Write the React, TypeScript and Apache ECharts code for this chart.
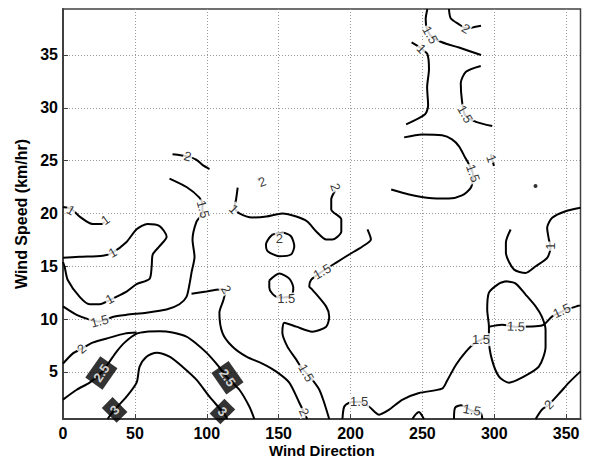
import React, { useEffect, useRef } from 'react';
import * as echarts from 'echarts';

// Axis ticks and extents
const xTicks = [0, 50, 100, 150, 200, 250, 300, 350];
const yTicks = [5, 10, 15, 20, 25, 30, 35];
const X_MIN = 0;
const X_MAX = 360;
const Y_MIN = 0.54;
const Y_MAX = 39.35;

// Contour lines: [wind direction, wind speed]
const oneLoopLeft = [[0, 15.8], [11.6, 15.9], [27.6, 16.0], [34.5, 16.3], [44.2, 17.3], [51.2, 18.5], [58.8, 19.0], [67.2, 18.8], [72.1, 17.8], [67.2, 16.9], [62.4, 16.1], [61.7, 15.0], [60.2, 13.8], [51.2, 13.3], [44.2, 12.6], [32.4, 11.8], [25.5, 11.4], [18.5, 11.4], [11.6, 12.1], [3.3, 13.7], [1.2, 14.9], [0, 15.4]];
const oneTopLeft = [[0, 20.6], [6, 20.4], [11.6, 19.7], [20.6, 19.0], [26.9, 19.0], [29, 19.2]];
const twoTopLeft = [[76.2, 25.6], [86.6, 25.4], [92.6, 25.1], [97.0, 24.6], [101.9, 24.2]];
const onePointFiveLeft = [[0, 11.2], [9.5, 10.4], [18.5, 9.95], [25.5, 9.76], [34.5, 10.2], [44.2, 10.4], [58.1, 10.6], [72.0, 10.9], [81.0, 11.4], [85.9, 12.1], [88.0, 13.3], [89.4, 14.4], [91.5, 15.9], [90.1, 17.5], [92.8, 19.2], [97.0, 20.1], [97.0, 20.85], [94.9, 21.5], [85.9, 22.5], [74.1, 23.3]];
const twoMiddle = [[89.4, 12.4], [99.8, 12.6], [108.8, 12.8], [113.0, 12.7], [111.6, 11.8], [108.8, 10.6], [110.9, 8.7], [117.8, 7.4], [127.6, 6.44], [138.7, 5.78], [148.4, 5.02], [157.4, 3.98], [164.4, 2.08], [167.8, 1.13], [169.9, 0.54]];
const twoLeft = [[0, 5.78], [6.7, 6.73], [13.0, 7.2], [20.6, 7.77], [32.4, 8.24], [42.8, 8.62], [51.2, 8.72]];
const twoPointFive = [[0, 2.37], [9.5, 3.31], [18.5, 3.98], [26.7, 4.92], [32.4, 5.97], [37.3, 6.92], [42.8, 7.77], [51.2, 8.62], [58.1, 8.81], [67.2, 8.84], [76.2, 8.72], [85.9, 8.34], [92.8, 7.67], [99.8, 6.82], [106.7, 5.78], [114.4, 4.45], [122.7, 3.31], [129.7, 1.7], [133.1, 0.54]];
const three = [[31.0, 0.54], [35.9, 1.42], [44.2, 2.65], [51.2, 3.98], [53.3, 5.49], [58.1, 6.44], [65.1, 6.82], [74.1, 6.44], [83.1, 5.49], [92.8, 4.26], [101.9, 2.65], [110.9, 1.23], [114.4, 0.54]];
const onePointFiveCenter = [[211.8, 18.48], [214.2, 17.53], [208.3, 16.87], [199.1, 16.11], [190.1, 15.35], [180.3, 14.5], [172.7, 13.74], [171.3, 13.08], [173.4, 12.79], [183.1, 11.18], [185.2, 10.23], [183.1, 9.28], [173.4, 8.81], [162.3, 9.28], [153.9, 9.66], [152.6, 8.72], [156.1, 7.39], [162.3, 6.16], [165.8, 5.4], [169.2, 4.92], [173.4, 4.26], [178.3, 3.31], [181.7, 2.08], [185.2, 0.54]];
const twoSmallLoop = [[145.8, 18.0], [152.8, 18.17], [158.6, 17.84], [160.9, 16.9], [158.6, 16.11], [150.5, 15.95], [142.4, 16.42], [141.2, 17.06], [143.5, 17.69], [145.8, 18.0]];
const onePointFiveSmallLoop = [[143.5, 13.65], [150.5, 14.31], [157.4, 13.83], [160.2, 12.98], [158.8, 12.22], [150.5, 12.03], [145.6, 12.41], [143.5, 12.98], [143.5, 13.65]];
const twoTick = [[135.3, 23.3], [136.6, 23.2]];
const oneTwoCenter = [[121.5, 22.43], [120.4, 21.32], [119.2, 20.56], [122.7, 20.0], [131.7, 19.62], [141.5, 19.71], [152.6, 20.0], [162.3, 19.71], [169.9, 19.24], [176.2, 18.29], [183.1, 17.53], [187.4, 17.53], [193.6, 18.29], [193.6, 19.43], [186.6, 20.37], [186.6, 21.32], [189.4, 22.18]];
const onePointFiveArc = [[237.3, 27.2], [249.8, 27.48], [263.7, 27.39], [270.6, 27.01], [275.5, 26.35], [279.7, 25.3], [282.4, 24.64], [285.2, 23.69], [283.8, 22.46], [277.6, 21.7], [268.5, 21.42], [254.7, 21.47], [240.8, 21.8], [228.3, 22.27]];
const onePointFiveTop = [[253.5, 39.35], [252.3, 38.4], [253.0, 37.6], [256.0, 36.8], [263.7, 36.2], [275.5, 35.7], [290.8, 35.0]];
const twoTop = [[268.5, 39.35], [269.7, 38.48], [275.5, 37.9], [280.1, 37.53], [290.8, 37.77]];
const oneTopVertical = [[242.5, 36.18], [249.4, 35.6], [253.5, 35.07], [254.6, 33.65], [253.3, 31.94], [254.0, 30.23], [251.9, 29.38], [238.7, 28.43]];
const onePointFiveTopRight = [[290.6, 33.96], [280.3, 33.41], [276.7, 32.32], [277.6, 30.61], [279.7, 29.3], [287.3, 28.67], [298.6, 28.27]];
const oneTiny = [[297.5, 25.6], [299.8, 24.5]];
const oneRight = [[360, 20.54], [349.6, 20.21], [340.3, 19.59], [336.8, 18.64], [338.0, 17.53], [339.2, 16.8], [336.8, 15.79], [328.8, 15.0], [321.8, 14.37], [313.7, 14.69], [308.1, 16.3], [308.1, 17.24], [311.4, 18.48]];
const onePointFiveLoopRight = [[307.9, 13.58], [314.9, 13.36], [321.8, 12.32], [328.9, 11.18], [333.1, 10.23], [335.7, 9.0], [335.7, 7.39], [331.0, 5.49], [319.2, 4.45], [310.2, 3.98], [303.3, 4.55], [298.4, 6.16], [296.3, 8.05], [296.3, 9.28], [295.1, 10.9], [296.3, 12.51], [303.3, 13.36], [307.9, 13.58]];
const onePointFiveAcross = [[296.3, 9.28], [305.3, 9.47], [315.1, 9.28], [328.9, 9.31], [334.5, 9.47], [340.1, 10.23], [347.0, 10.71], [356.7, 11.18], [360, 11.3]];
const onePointFiveBottom = [[194.4, 0.54], [195.6, 1.7], [199.1, 2.08], [206.0, 2.18], [213.0, 1.7], [219.9, 0.95], [226.9, 1.42], [235.9, 2.36], [247.7, 3.0], [263.7, 3.41], [267.2, 4.17], [273.4, 5.68], [280.3, 6.92], [285.9, 7.67], [290.8, 8.05], [296.3, 8.34]];
const onePointFiveSmallBottom = [[272.0, 0.54], [272.7, 1.6], [276.9, 1.85], [284.5, 1.3], [290.6, 1.1], [291.7, 0.54]];
const bumpBottom = [[243.0, 0.54], [245.5, 1.0], [247.7, 1.2], [250.0, 0.8], [251.0, 0.54]];
const twoBottomRight = [[328.8, 0.54], [333.1, 1.42], [338.0, 1.9], [346.3, 3.12], [351.9, 3.98], [360, 5.05]];
const isolatedPoints = [[328.7, 22.6]];

const contourLines = [
  oneLoopLeft, oneTopLeft, twoTopLeft, onePointFiveLeft, twoMiddle, twoLeft,
  twoPointFive, three, onePointFiveCenter, twoSmallLoop, onePointFiveSmallLoop,
  twoTick, oneTwoCenter, onePointFiveArc, onePointFiveTop, twoTop, oneTopVertical,
  onePointFiveTopRight, oneTiny, oneRight, onePointFiveLoopRight, onePointFiveAcross,
  onePointFiveBottom, onePointFiveSmallBottom, bumpBottom, twoBottomRight,
];

// Contour labels: [x, y, text, rotation (deg), boxed]
const contourLabels: [number, number, string, number, number][] = [
  [5.5, 20.3, '1', -30, 0],
  [29.5, 19.4, '1', 35, 0],
  [34.5, 16.3, '1', 30, 0],
  [32.4, 11.9, '1', 30, 0],
  [25.5, 9.8, '1.5', 15, 0],
  [97.5, 20.4, '1.5', -75, 0],
  [86.8, 25.4, '2', -15, 0],
  [13.0, 7.2, '2', 40, 0],
  [26.7, 4.9, '2.5', 55, 1],
  [114.4, 4.45, '2.5', -55, 1],
  [35.9, 1.4, '3', 45, 1],
  [110.9, 1.25, '3', -45, 1],
  [113.5, 12.8, '2', -60, 0],
  [167.8, 1.2, '2', -65, 0],
  [180.3, 14.5, '1.5', 30, 0],
  [169.2, 4.9, '1.5', -60, 0],
  [150.5, 17.6, '2', 0, 0],
  [155.3, 11.9, '1.5', 0, 0],
  [138.5, 23.0, '2', 20, 0],
  [118.8, 20.4, '1', -45, 0],
  [189.6, 22.5, '2', -70, 0],
  [285.3, 23.8, '1.5', -70, 0],
  [255.5, 36.9, '1.5', -60, 0],
  [280.3, 37.5, '2', -30, 0],
  [249.4, 35.6, '1', -45, 0],
  [279.7, 29.4, '1.5', -60, 0],
  [298.0, 25.2, '1', -70, 0],
  [339.3, 16.9, '1', 90, 0],
  [315.1, 9.3, '1.5', -3, 0],
  [347.0, 10.8, '1.5', 25, 0],
  [290.8, 8.05, '1.5', 0, 0],
  [206.0, 2.2, '1.5', 0, 0],
  [284.5, 1.4, '1.5', -10, 0],
  [338.0, 1.9, '2', 45, 0],
];

const FONT = 'Liberation Sans, Arial, Helvetica, sans-serif';

export default function App() {
  const ref = useRef<HTMLDivElement>(null);

  useEffect(() => {
    document.body.style.margin = '0';
    if (!ref.current) return;
    const chart = echarts.init(ref.current, null, { renderer: 'svg' });

    const lineSeries = contourLines.map((pts) => ({
      type: 'line',
      data: pts,
      showSymbol: false,
      symbol: 'none',
      smooth: 0.25,
      clip: true,
      silent: true,
      z: 3,
      lineStyle: { color: '#000', width: 2 },
    }));

    const labelSeries = {
      type: 'scatter',
      symbolSize: 0,
      silent: true,
      z: 5,
      itemStyle: { color: '#000' },
      data: contourLabels.map(([x, y, text, rot, boxed]) => ({
        value: [x, y],
        label: {
          show: true,
          position: 'inside',
          formatter: text,
          rotate: rot,
          fontFamily: FONT,
          fontSize: 13,
          fontWeight: boxed ? 'bold' : 'normal',
          color: boxed ? '#fff' : '#000',
          textBorderWidth: 0,
          textBorderColor: 'transparent',
          backgroundColor: boxed ? '#000' : '#fff',
          padding: boxed ? [4, 4] : [0, 1],
          lineHeight: 13,
        },
      })),
    };

    const dotSeries = {
      type: 'scatter',
      symbol: 'circle',
      symbolSize: 4,
      silent: true,
      z: 4,
      itemStyle: { color: '#000' },
      data: isolatedPoints,
    };

    const axisLabelStyle = {
      fontFamily: FONT,
      fontSize: 16,
      fontWeight: 'bold',
      color: '#000',
    };

    chart.setOption({
      animation: false,
      backgroundColor: '#fff',
      grid: {
        left: 63,
        right: 8.5,
        top: 9,
        bottom: 41,
        show: true,
        borderColor: '#404040',
        borderWidth: 1.5,
        backgroundColor: 'transparent',
        outerBoundsMode: 'none',
      },
      xAxis: {
        type: 'value',
        min: X_MIN,
        max: X_MAX,
        name: 'Wind Direction',
        nameLocation: 'middle',
        nameGap: 24,
        nameMoveOverlap: false,
        nameTextStyle: { ...axisLabelStyle, fontSize: 15, lineHeight: 15 },
        axisLine: { show: true, lineStyle: { color: '#404040', width: 2 } },
        axisTick: { show: true, inside: true, length: 5, customValues: xTicks, lineStyle: { color: '#404040' } },
        axisLabel: { ...axisLabelStyle, margin: 6, customValues: xTicks },
        splitLine: { show: true, lineStyle: { color: '#9a9a9a', type: [1, 2], width: 1 } },
      },
      yAxis: {
        type: 'value',
        min: Y_MIN,
        max: Y_MAX,
        name: 'Wind Speed (km/hr)',
        nameLocation: 'middle',
        nameGap: 34,
        nameMoveOverlap: false,
        nameTextStyle: { ...axisLabelStyle },
        axisLine: { show: true, lineStyle: { color: '#404040', width: 2 } },
        axisTick: { show: true, inside: true, length: 5, customValues: yTicks, lineStyle: { color: '#404040' } },
        axisLabel: { ...axisLabelStyle, margin: 5, customValues: yTicks },
        splitLine: { show: true, lineStyle: { color: '#9a9a9a', type: [1, 2], width: 1 } },
      },
      series: [...lineSeries, dotSeries, labelSeries],
    });

    return () => {
      chart.dispose();
    };
  }, []);

  return <div ref={ref} style={{ width: 589, height: 460 }} />;
}
